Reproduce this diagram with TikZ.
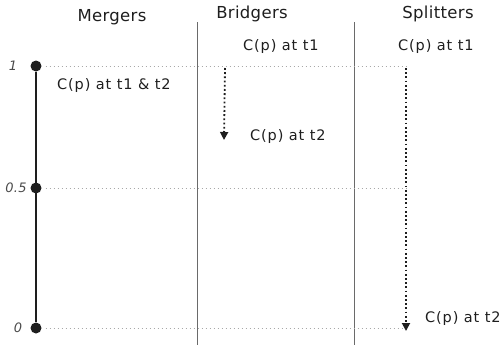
\documentclass[tikz,border=0pt]{standalone}
\usepackage{fontspec}
\setmainfont{DejaVu Sans}[LetterSpace=2]
\newfontfamily\lblfont{DejaVu Sans}[LetterSpace=6]
\usetikzlibrary{arrows.meta}
\definecolor{ink}{HTML}{1E1E1E}
\definecolor{sep}{HTML}{6A6A6A}
\definecolor{grid}{HTML}{A8A8A8}
\tikzset{
  dotnode/.style={circle,fill=ink,inner sep=0pt,minimum size=11pt},
  title/.style={font=\fontsize{16.5}{17}\selectfont,text=ink,inner sep=0pt},
  lbl/.style={font=\lblfont\fontsize{14.5}{15}\selectfont,text=ink,inner sep=0pt},
  axis/.style={font=\itshape\fontsize{13}{13}\selectfont,text=ink!80,inner sep=0pt},
  gridline/.style={grid,line width=0.9pt,dash pattern=on 0.9pt off 3.1pt},
  sepline/.style={sep,line width=0.9pt},
  move/.style={ink,line width=1.8pt,dash pattern=on 1.8pt off 2.4pt,-{Triangle[length=8pt,width=8pt]}},
}
\begin{document}
\begin{tikzpicture}[x=1pt,y=-1pt]
\useasboundingbox (0,0) rectangle (500,346);
% titles
\node[title] (tm) at (112,17) {Mergers};
\node[title] (tb) at (252,14) {Bridgers};
\node[title] (ts) at (438,14) {Splitters};
% separators
\coordinate (s1t) at (197,22); \coordinate (s1b) at (197,345);
\coordinate (s2t) at (354,22); \coordinate (s2b) at (354,345);
\draw[sepline] (s1t) -- (s1b);
\draw[sepline] (s2t) -- (s2b);
% dots
\node[dotnode] (d1) at (36,66) {};
\node[dotnode] (d05) at (36,188) {};
\node[dotnode] (d0) at (36,328) {};
% grid lines
\coordinate (g1) at (406,66);
\coordinate (g05) at (408,188);
\coordinate (g0) at (404,328);
\draw[gridline] (d1.east) ++(4,0) -- (g1);
\draw[gridline] (d05.east) ++(4,0) -- (g05);
\draw[gridline] (d0.east) ++(4,0) -- (g0);
% axis line
\draw[ink,line width=1.3pt] (d1) -- (d0);
% axis labels
\node[axis] (a1) at (13,66) {1};
\node[axis] (a05) at (16,188) {0.5};
\node[axis] (a0) at (18,328) {0};
% labels
\node[lbl,anchor=west] (m12) at (57,86) {C(p) at t1 \& t2};
\node[lbl,anchor=west] (b1) at (243,47) {C(p) at t1};
\node[lbl,anchor=west] (b2) at (250,137) {C(p) at t2};
\node[lbl,anchor=west] (s1) at (398,47) {C(p) at t1};
\node[lbl,anchor=west] (s2) at (425,318) {C(p) at t2};
% arrows
\coordinate (ba) at (225,68); \coordinate (bb) at (224,140);
\coordinate (sa) at (406,68); \coordinate (sb) at (406,331);
\draw[move] (ba) -- (bb);
\draw[move] (sa) -- (sb);
\end{tikzpicture}
\end{document}
